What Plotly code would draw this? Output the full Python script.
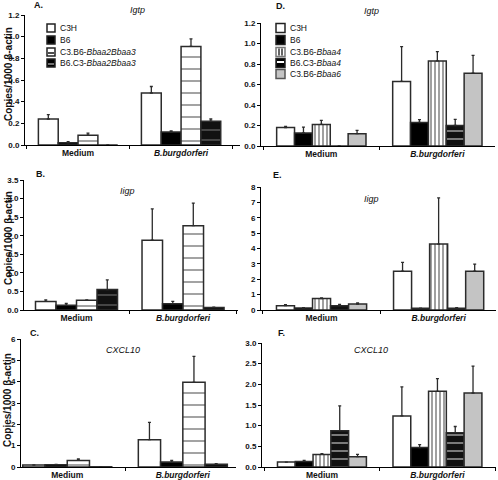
import plotly.graph_objects as go

W, H = 498, 480

categories = ["Medium", "B.burgdorferi"]
category_labels = ["<b>Medium</b>", "<b><i>B.burgdorferi</i></b>"]

left_series = ["C3H", "B6", "C3.B6-<i>Bbaa2Bbaa3</i>", "B6.C3-<i>Bbaa2Bbaa3</i>"]
right_series = ["C3H", "B6", "C3.B6-<i>Bbaa4</i>", "B6.C3-<i>Bbaa4</i>", "C3.B6-<i>Bbaa6</i>"]

# Panel A: Igtp (left)
igtp_left_vals = [[0.24, 0.48], [0.02, 0.12], [0.09, 0.91], [0.0, 0.22]]
igtp_left_err = [[0.04, 0.06], [0.01, 0.01], [0.02, 0.07], [0.0, 0.02]]
# Panel B: Iigp (left)
iigp_left_vals = [[0.23, 1.88], [0.125, 0.17], [0.26, 2.27], [0.55, 0.07]]
iigp_left_err = [[0.04, 0.84], [0.05, 0.06], [0.01, 0.61], [0.26, 0.01]]
# Panel C: CXCL10 (left)
cxcl_left_vals = [[0.09, 1.28], [0.11, 0.23], [0.31, 3.97], [0.01, 0.125]]
cxcl_left_err = [[0.01, 0.81], [0.01, 0.08], [0.065, 1.22], [0.0, 0.035]]
# Panel D: Igtp (right)
igtp_right_vals = [[0.18, 0.63], [0.127, 0.23], [0.21, 0.83], [0.0, 0.20], [0.12, 0.71]]
igtp_right_err = [[0.01, 0.34], [0.058, 0.027], [0.04, 0.09], [0.0, 0.06], [0.033, 0.175]]
# Panel E: Iigp (right)
iigp_right_vals = [[0.28, 2.52], [0.13, 0.11], [0.74, 4.29], [0.28, 0.11], [0.39, 2.52]]
iigp_right_err = [[0.07, 0.58], [0.02, 0.01], [0.04, 3.0], [0.09, 0.04], [0.07, 0.47]]
# Panel F: CXCL10 (right)
cxcl_right_vals = [[0.12, 1.235], [0.136, 0.47], [0.305, 1.83], [0.88, 0.83], [0.25, 1.79]]
cxcl_right_err = [[0.0, 0.705], [0.024, 0.07], [0.015, 0.31], [0.6, 0.15], [0.055, 0.65]]

LINE = "#2b2b2b"
FONT = "Liberation Sans, Arial, sans-serif"
YTITLE = "<b>Copies/1000 β-actin</b>"

left_styles = [
    dict(color="white"),
    dict(color="black"),
    dict(color="white", pattern=dict(shape="-", bgcolor="white", fgcolor="#111", size=12, solidity=0.13)),
    dict(color="black", pattern=dict(shape="-", bgcolor="#111", fgcolor="#9a9a9a", size=10, solidity=0.15)),
]
right_styles = [
    dict(color="white"),
    dict(color="black"),
    dict(color="white", pattern=dict(shape="|", bgcolor="white", fgcolor="#111", size=4, solidity=0.4)),
    dict(color="black", pattern=dict(shape="-", bgcolor="#111", fgcolor="white", size=8, solidity=0.22)),
    dict(color="#c4c4c4"),
]

# panel geometry in pixels: (x0, x1, ytop, ybottom), x-range in category units
panels = [
    ("A.", "Igtp", igtp_left_vals, igtp_left_err, left_series, left_styles, (25, 240, 15, 145), [-0.515, 1.572], 1.2, 0.2),
    ("B.", "Iigp", iigp_left_vals, iigp_left_err, left_series, left_styles, (24, 238, 180, 310), [-0.493, 1.516], 3.5, 0.5),
    ("C.", "CXCL10", cxcl_left_vals, cxcl_left_err, left_series, left_styles, (21, 236, 339, 467), [-0.40, 1.46], 6, 1),
    ("D.", "Igtp", igtp_right_vals, igtp_right_err, right_series, right_styles, (261, 495, 23, 146), [-0.52, 1.497], 1.2, 0.2),
    ("E.", "Iigp", iigp_right_vals, iigp_right_err, right_series, right_styles, (261, 496, 187, 310), [-0.517, 1.49], 8, 1),
    ("F.", "CXCL10", cxcl_right_vals, cxcl_right_err, right_series, right_styles, (262, 496, 343, 467), [-0.519, 1.507], 3.0, 0.5),
]
title_pos = [(137, 10), (128, 191), (123, 350), (371, 11), (371, 199), (371, 350)]
letter_pos = [(38, 5), (40, 174), (34, 333), (280, 6), (277, 175), (281, 333)]
ytitle_pos = [(8, 74), (8, 238), (7, 400)]


def px(x):
    return x / W


def py(y):
    return 1 - y / H


def note(x, y, text, size=9, xanchor="center", textangle=0):
    fig.add_annotation(x=px(x), y=py(y), xref="paper", yref="paper",
                       xanchor=xanchor, yanchor="middle", textangle=textangle,
                       text=text, showarrow=False,
                       font=dict(family=FONT, size=size, color="#111"))


fig = go.Figure()
layout = {}
for i, (letter, gene, vals, errs, names, styles, geo, xr, ymax, dtick) in enumerate(panels):
    n = i + 1
    xa = "x" if n == 1 else f"x{n}"
    ya = "y" if n == 1 else f"y{n}"
    x0, x1, yt, yb = geo
    for s, name in enumerate(names):
        fig.add_trace(go.Bar(
            x=categories, y=vals[s], name=name,
            xaxis=xa, yaxis=ya,
            marker=dict(**styles[s], line=dict(color=LINE, width=1.5)),
            error_y=dict(type="data", array=errs[s], arrayminus=[0] * len(errs[s]),
                         symmetric=False, color=LINE, thickness=1.3, width=1.5),
            showlegend=False,
        ))
    xkey = "xaxis" if n == 1 else f"xaxis{n}"
    ykey = "yaxis" if n == 1 else f"yaxis{n}"
    layout[xkey] = dict(
        domain=[x0 / W, x1 / W], anchor=ya, type="category", range=xr,
        tickvals=categories, ticktext=category_labels,
        showline=True, linecolor="black", linewidth=1,
        ticks="outside", tickson="boundaries", ticklen=3, tickcolor="black",
        tickfont=dict(family=FONT, size=8.5, color="#111"),
        showgrid=False, zeroline=False, automargin=False, fixedrange=True,
    )
    layout[ykey] = dict(
        domain=[1 - yb / H, 1 - yt / H], anchor=xa,
        range=[0, ymax], dtick=dtick, tick0=0,
        tickformat=".1f" if dtick < 1 else "d",
        showline=True, linecolor="black", linewidth=1,
        ticks="outside", ticklen=3, tickcolor="black",
        tickfont=dict(family=FONT, size=8, color="#111", weight="bold"),
        showgrid=False, zeroline=False, automargin=False, fixedrange=True,
    )
    tx, ty = title_pos[i]
    note(tx, ty, f"<i>{gene}</i>")
    lx, ly = letter_pos[i]
    note(lx, ly, f"<b>{letter}</b>")

for (x, y) in ytitle_pos:
    note(x, y, YTITLE, size=10, textangle=-90)

# ---- manual legends (compact spacing like the original) ----
shapes = []


def swatch(xl, yc, size, fill, border="#222", extra=None):
    h = size / 2
    shapes.append(dict(type="rect", xref="paper", yref="paper",
                       x0=px(xl), x1=px(xl + size), y0=py(yc + h), y1=py(yc - h),
                       fillcolor=fill, line=dict(color=border, width=1.5), layer="above"))
    if extra:
        for (ax0, ay0, ax1, ay1, col, wd) in extra:
            shapes.append(dict(type="line", xref="paper", yref="paper",
                               x0=px(xl + ax0), y0=py(yc + ay0), x1=px(xl + ax1), y1=py(yc + ay1),
                               line=dict(color=col, width=wd), layer="above"))


left_leg_y = [28, 40, 52, 63]
s = 8
swatch(47, left_leg_y[0], s, "white")
swatch(47, left_leg_y[1], s, "black")
swatch(47, left_leg_y[2], s, "white", extra=[(1, 1, s - 1, 1, "#111", 1.5)])
swatch(47, left_leg_y[3], s, "black", extra=[(1, 1, s - 1, 1, "#999", 1.5)])
for yc, name in zip(left_leg_y, left_series):
    note(58, yc, name, size=8.5, xanchor="left")

right_leg_y = [28, 40, 52, 63, 74]
s = 9
swatch(276, right_leg_y[0], s, "white")
swatch(276, right_leg_y[1], s, "black")
swatch(276, right_leg_y[2], s, "white", border="#777",
       extra=[(3, -3.5, 3, 3.5, "#111", 1.3), (6, -3.5, 6, 3.5, "#111", 1.3)])
swatch(276, right_leg_y[3], s, "black", extra=[(1, -1, s - 1, -1, "white", 2)])
swatch(276, right_leg_y[4], s, "#c4c4c4", border="#555")
for yc, name in zip(right_leg_y, right_series):
    note(288, yc, name, size=8.5, xanchor="left")

fig.update_layout(
    **layout,
    shapes=shapes,
    width=W, height=H,
    margin=dict(l=0, r=0, t=0, b=0),
    paper_bgcolor="white", plot_bgcolor="white",
    barmode="group", bargap=0.23, bargroupgap=0,
    showlegend=False,
)

fig.write_html(
    "out.html",
    config={"displayModeBar": False, "staticPlot": True},
    post_script="document.body.style.margin='0';document.body.style.overflow='hidden';",
)
